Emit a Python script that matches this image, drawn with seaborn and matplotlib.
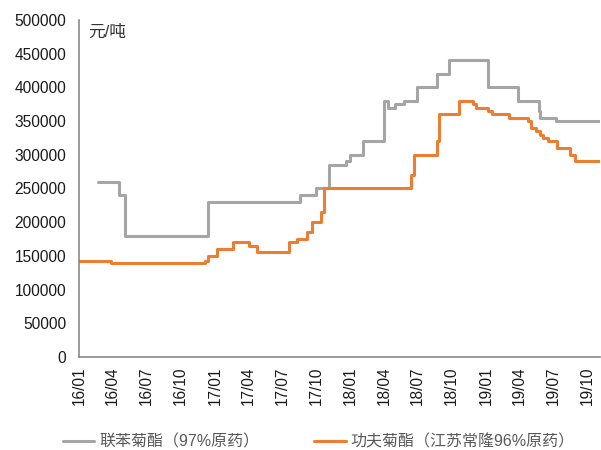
import seaborn as sns
import pandas as pd
import matplotlib
import matplotlib.pyplot as plt
import matplotlib.dates as mdates

matplotlib.use('Agg')

sns.set_theme(style="white")
plt.rcParams['font.family'] = ['Liberation Sans', 'Noto Sans CJK SC', 'DejaVu Sans']

# price change dates and levels (yuan/ton)
bif_name = '联苯菊酯（97%原药）'
bif_dates = ['2016-02-22', '2016-04-18', '2016-05-03', '2016-12-14',
             '2017-08-19', '2017-10-01', '2017-11-04', '2017-12-19',
             '2018-01-01', '2018-02-03', '2018-04-01', '2018-04-12',
             '2018-05-01', '2018-05-26', '2018-06-28', '2018-08-21',
             '2018-09-22', '2019-01-07', '2019-03-28', '2019-05-24',
             '2019-05-27', '2019-07-09', '2019-11-04']
bif_price = [260000, 240000, 180000, 230000,
             240000, 250000, 285000, 290000,
             300000, 320000, 380000, 370000,
             375000, 380000, 400000, 420000,
             440000, 400000, 380000, 365000,
             355000, 350000, 350000]

lam_name = '功夫菊酯（江苏常隆96%原药）'
lam_dates = ['2016-01-01', '2016-02-22', '2016-03-28', '2016-12-05',
             '2016-12-14', '2017-01-06', '2017-02-18', '2017-04-03',
             '2017-04-24', '2017-07-19', '2017-08-11', '2017-09-06',
             '2017-09-20', '2017-10-15', '2017-10-22', '2018-06-12',
             '2018-06-20', '2018-08-22', '2018-08-28', '2018-10-19',
             '2018-11-28', '2018-12-05', '2019-01-07', '2019-01-18',
             '2019-03-04', '2019-04-24', '2019-05-03', '2019-05-16',
             '2019-05-25', '2019-06-03', '2019-06-17', '2019-07-10',
             '2019-08-15', '2019-08-28', '2019-11-04']
lam_price = [143000, 142000, 140000, 143000,
             150000, 160000, 170000, 165000,
             155000, 170000, 175000, 185000,
             200000, 215000, 250000, 270000,
             300000, 320000, 360000, 380000,
             375000, 370000, 365000, 360000,
             355000, 350000, 340000, 335000,
             330000, 325000, 320000, 310000,
             300000, 290000, 290000]

tick_dates = pd.date_range('2016-01-01', '2019-10-01', freq='3MS')

df = pd.concat([
    pd.DataFrame({'date': pd.to_datetime(bif_dates), 'price': bif_price, 'name': bif_name}),
    pd.DataFrame({'date': pd.to_datetime(lam_dates), 'price': lam_price, 'name': lam_name}),
])

fig = plt.figure(figsize=(6.01, 4.5), dpi=100)
ax = fig.add_axes([0.1314, 0.2067, 0.867, 0.749])

sns.lineplot(data=df, x='date', y='price', hue='name',
             hue_order=[bif_name, lam_name],
             palette=['#A5A5A5', '#ED7D31'],
             drawstyle='steps-post', linewidth=2.2,
             estimator=None, ax=ax, legend=True)

ax.set_xlim(pd.Timestamp('2016-01-01'), pd.Timestamp('2019-11-04'))
ax.set_ylim(0, 500000)
ax.set_yticks(range(0, 500001, 50000))
ax.set_xticks(tick_dates)
ax.xaxis.set_major_formatter(mdates.DateFormatter('%y/%m'))
ax.set_xlabel('')
ax.set_ylabel('')

for lbl in ax.get_xticklabels():
    lbl.set_rotation(90)

sns.despine(ax=ax)
for s in ['left', 'bottom']:
    ax.spines[s].set_color('#898989')
    ax.spines[s].set_linewidth(1.2)
ax.tick_params(axis='both', direction='in', length=3.5, width=1,
               color='#898989', labelsize=11.2, labelcolor='#1a1a1a')
ax.tick_params(axis='y', pad=9)
ax.tick_params(axis='x', pad=7)

ax.text(0.018, 0.985, '元/吨', transform=ax.transAxes, fontsize=12,
        color='#333333', va='top', ha='left')

handles, labels = ax.get_legend_handles_labels()
ax.get_legend().remove()
fig.legend(handles, labels, loc='lower center', ncol=2, frameon=False,
           bbox_to_anchor=(0.53, -0.03), fontsize=11.5, handlelength=2.0,
           handletextpad=0.3, columnspacing=3.4, labelcolor='#595959')

fig.savefig('out.png', dpi=100)
